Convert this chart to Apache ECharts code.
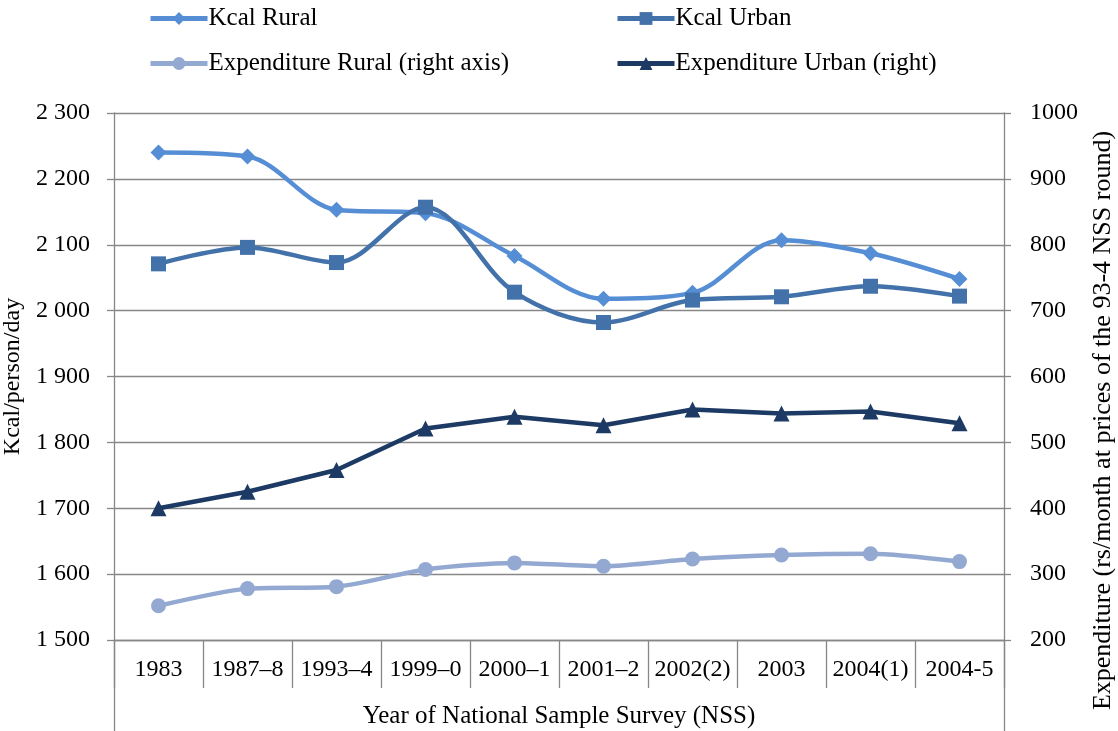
<!DOCTYPE html>
<html>
<head>
<meta charset="utf-8">
<script src="https://cdn.jsdelivr.net/npm/echarts@6/dist/echarts.min.js"></script>
<style>
html,body{margin:0;padding:0;background:#fff;}
#chart{width:1118px;height:731px;}
</style>
</head>
<body>
<div id="chart"></div>
<script>
const categories = ['1983','1987–8','1993–4','1999–0','2000–1','2001–2','2002(2)','2003','2004(1)','2004-5'];
const kcalRural = [2240, 2234, 2153, 2148, 2083, 2018, 2027, 2107, 2087, 2048];
const kcalUrban = [2071, 2096, 2073, 2157, 2028, 1982, 2016, 2021, 2037, 2022];
const expRural = [252, 278, 281, 307, 317, 312, 323, 329, 331, 319];
const expUrban = [400, 425, 458, 521, 539, 526, 550, 544, 547, 529];
const leftTicks = {min: 1500, max: 2300, interval: 100};
const rightTicks = {min: 200, max: 1000, interval: 100};

const FONT = '"Liberation Serif", "DejaVu Serif", serif';
const AX = '#878787';
const chart = echarts.init(document.getElementById('chart'));

function fmtSpace(v){
  const s = String(v);
  return s.length > 3 ? s.slice(0, s.length-3) + ' ' + s.slice(-3) : s;
}

const legendBase = {
  orient: 'vertical', top: 1, itemWidth: 57, itemHeight: 16, itemGap: 20,
  lineStyle: {width: 5},
  textStyle: {fontFamily: FONT, fontSize: 25, lineHeight: 25, color: '#000', padding: [0,0,0,-4]}
};

chart.setOption({
  animation: false,
  backgroundColor: '#fff',
  textStyle: {fontFamily: FONT, color: '#000'},
  legend: [
    Object.assign({}, legendBase, {left: 143, data: ['Kcal Rural', 'Expenditure Rural (right axis)']}),
    Object.assign({}, legendBase, {left: 610, data: ['Kcal Urban', 'Expenditure Urban (right)']})
  ],
  grid: {left: 114, right: 114, top: 113, bottom: 91, containLabel: false, outerBoundsMode: 'none'},
  xAxis: [
    {
      type: 'category', data: categories, boundaryGap: true, position: 'bottom',
      axisLine: {show: true, lineStyle: {color: AX, width: 1.3}},
      axisTick: {show: true, interval: 0, length: 48, lineStyle: {color: AX, width: 1.3}},
      axisLabel: {interval: 0, margin: 18, fontSize: 24, fontFamily: FONT, color: '#000'},
      name: 'Year of National Sample Survey (NSS)', nameLocation: 'middle', nameGap: 64,
      nameTextStyle: {fontSize: 25, fontFamily: FONT, color: '#000'}
    },
    {
      type: 'category', data: [''], boundaryGap: true, position: 'bottom',
      axisLine: {show: false},
      axisTick: {show: true, length: 91, lineStyle: {color: AX, width: 1.3}},
      axisLabel: {show: false}, splitLine: {show: false}
    }
  ],
  yAxis: [
    {
      type: 'value', position: 'left', min: leftTicks.min, max: leftTicks.max, interval: leftTicks.interval,
      axisLine: {show: true, lineStyle: {color: AX, width: 1.3}},
      axisTick: {show: true, length: 7, lineStyle: {color: AX, width: 1.3}},
      axisLabel: {margin: 24, fontSize: 24, fontFamily: FONT, color: '#000', formatter: fmtSpace},
      splitLine: {show: true, lineStyle: {color: AX, width: 1.3}},
      name: 'Kcal/person/day', nameLocation: 'middle', nameGap: 86, nameRotate: 90,
      nameTextStyle: {fontSize: 24, fontFamily: FONT, color: '#000'}
    },
    {
      type: 'value', position: 'right', min: rightTicks.min, max: rightTicks.max, interval: rightTicks.interval,
      axisLine: {show: true, lineStyle: {color: AX, width: 1.3}},
      axisTick: {show: true, length: 7, lineStyle: {color: AX, width: 1.3}},
      axisLabel: {margin: 26, fontSize: 24, fontFamily: FONT, color: '#000', formatter: v => String(v)},
      splitLine: {show: false},
      name: 'Expenditure (rs/month at prices of the 93-4 NSS round)', nameLocation: 'middle', nameGap: 86, nameRotate: 90,
      nameTextStyle: {fontSize: 26, fontFamily: FONT, color: '#000', padding: [0, 88, 0, 0]}
    }
  ],
  series: [
    {
      name: 'Kcal Rural', type: 'line', data: kcalRural, yAxisIndex: 0, smooth: 0.33,
      symbol: 'diamond', symbolSize: 16,
      lineStyle: {width: 4.5, color: '#558ed5'}, itemStyle: {color: '#558ed5'}
    },
    {
      name: 'Kcal Urban', type: 'line', data: kcalUrban, yAxisIndex: 0, smooth: 0.33,
      symbol: 'rect', symbolSize: 15,
      lineStyle: {width: 4.5, color: '#4372aa'}, itemStyle: {color: '#4372aa'}
    },
    {
      name: 'Expenditure Rural (right axis)', type: 'line', data: expRural, yAxisIndex: 1, smooth: 0.25,
      symbol: 'circle', symbolSize: 15,
      lineStyle: {width: 4.5, color: '#93a9d2'}, itemStyle: {color: '#93a9d2'}
    },
    {
      name: 'Expenditure Urban (right)', type: 'line', data: expUrban, yAxisIndex: 1, smooth: false,
      symbol: 'triangle', symbolSize: 16,
      lineStyle: {width: 4.5, color: '#1c3a64'}, itemStyle: {color: '#1c3a64'}
    }
  ]
});
</script>
</body>
</html>
